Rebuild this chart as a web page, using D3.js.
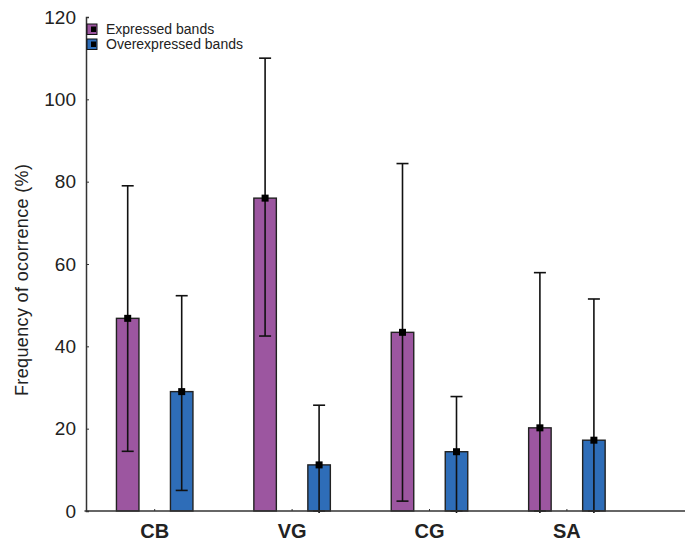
<!DOCTYPE html>
<html>
<head>
<meta charset="utf-8">
<script src="https://cdn.jsdelivr.net/npm/d3@7"></script>
<style>
  body { margin: 0; background: #fff; }
  svg { font-family: "Liberation Sans", Arial, sans-serif; }
</style>
</head>
<body>
<div id="chart-area"></div>
<script>
// data
const categories = ['CB', 'VG', 'CG', 'SA'];
const seriesNames = ['Expressed bands', 'Overexpressed bands'];
const expressed = [46.8, 76.0, 43.4, 20.2];
const expressedLow = [14.5, 42.5, 2.4, 0];
const expressedHigh = [79.0, 110.0, 84.4, 57.9];
const overexpressed = [29.0, 11.2, 14.4, 17.2];
const overLow = [5.0, 0, 0, 0];
const overHigh = [52.3, 25.7, 27.8, 51.5];
const yTicks = [0, 20, 40, 60, 80, 100, 120];
const colors = ['#9c56a0', '#2e6db8'];

const width = 689, height = 542;
const margin = {top: 17, left: 86, bottom: 31};

const svg = d3.select('#chart-area').append('svg')
  .attr('width', width)
  .attr('height', height);

const y = d3.scaleLinear().domain([0, 120]).range([height - margin.bottom, margin.top]);
const x = d3.scaleBand().domain(categories).range([margin.left, margin.left + 4 * 137.4]);
const offset = [-27, 27];
const barW = 22.5;

const series = [
  {name: seriesNames[0], vals: expressed, lo: expressedLow, hi: expressedHigh},
  {name: seriesNames[1], vals: overexpressed, lo: overLow, hi: overHigh}
];

// bars
series.forEach((s, si) => {
  svg.append('g').selectAll('rect')
    .data(categories)
    .join('rect')
    .attr('x', d => x(d) + x.bandwidth() / 2 + offset[si] - barW / 2)
    .attr('y', (d, i) => y(s.vals[i]))
    .attr('width', barW)
    .attr('height', (d, i) => y(0) - y(s.vals[i]))
    .attr('fill', colors[si])
    .attr('stroke', '#222')
    .attr('stroke-width', 1.4);
});

// error bars + markers
series.forEach((s, si) => {
  const g = svg.append('g').attr('stroke', '#111').attr('stroke-width', 1.6);
  categories.forEach((c, i) => {
    const cx = x(c) + x.bandwidth() / 2 + offset[si];
    g.append('line')
      .attr('x1', cx).attr('x2', cx)
      .attr('y1', y(s.lo[i]) + (s.lo[i] === 0 ? 2 : 0)).attr('y2', y(s.hi[i]));
    g.append('line')
      .attr('x1', cx - 6).attr('x2', cx + 6)
      .attr('y1', y(s.hi[i])).attr('y2', y(s.hi[i]));
    g.append('line')
      .attr('x1', cx - 6).attr('x2', cx + 6)
      .attr('y1', y(s.lo[i])).attr('y2', y(s.lo[i]));
    g.append('rect')
      .attr('x', cx - 3.5).attr('y', y(s.vals[i]) - 3.5)
      .attr('width', 7).attr('height', 7)
      .attr('fill', '#000').attr('stroke', 'none');
  });
});

// y axis
const yAxis = svg.append('g')
  .attr('transform', `translate(${margin.left},0)`)
  .call(d3.axisLeft(y).tickValues(yTicks).tickSize(-3).tickPadding(10));
yAxis.select('.domain').attr('stroke', '#333').attr('stroke-width', 1.5);
yAxis.selectAll('.tick line').attr('stroke', '#333');
yAxis.selectAll('.tick text')
  .attr('font-size', 19)
  .attr('fill', '#222')
  .attr('font-family', '"Liberation Sans", Arial, sans-serif');

// x axis
const xAxis = svg.append('g')
  .attr('transform', `translate(0,${y(0)})`)
  .call(d3.axisBottom(x).tickSize(-2).tickPadding(13));
xAxis.select('.domain').remove();
xAxis.selectAll('.tick line').attr('stroke', '#333');
xAxis.selectAll('.tick text')
  .attr('font-size', 20)
  .attr('font-weight', 'bold')
  .attr('fill', '#222')
  .attr('font-family', '"Liberation Sans", Arial, sans-serif');
svg.append('line')
  .attr('x1', margin.left - 1.5).attr('x2', 685)
  .attr('y1', y(0)).attr('y2', y(0))
  .attr('stroke', '#333').attr('stroke-width', 1.5);

// y label
svg.append('text')
  .attr('transform', 'translate(28,280) rotate(-90)')
  .attr('text-anchor', 'middle')
  .attr('font-size', 18)
  .attr('fill', '#222')
  .attr('textLength', 232)
  .attr('lengthAdjust', 'spacing')
  .text('Frequency of ocorrence (%)');

// legend
const legend = svg.append('g').attr('transform', 'translate(87,24)');
seriesNames.forEach((n, i) => {
  const lg = legend.append('g').attr('transform', `translate(0,${i * 15})`);
  lg.append('rect').attr('width', 10).attr('height', 10.5)
    .attr('fill', colors[i]).attr('stroke', '#111').attr('stroke-width', 1);
  lg.append('rect').attr('x', 4).attr('y', 2.5).attr('width', 5).attr('height', 5.5)
    .attr('fill', '#000');
  lg.append('text').attr('x', 19).attr('y', 10)
    .attr('font-size', 14).attr('fill', '#222')
    .text(n);
});
</script>
</body>
</html>
